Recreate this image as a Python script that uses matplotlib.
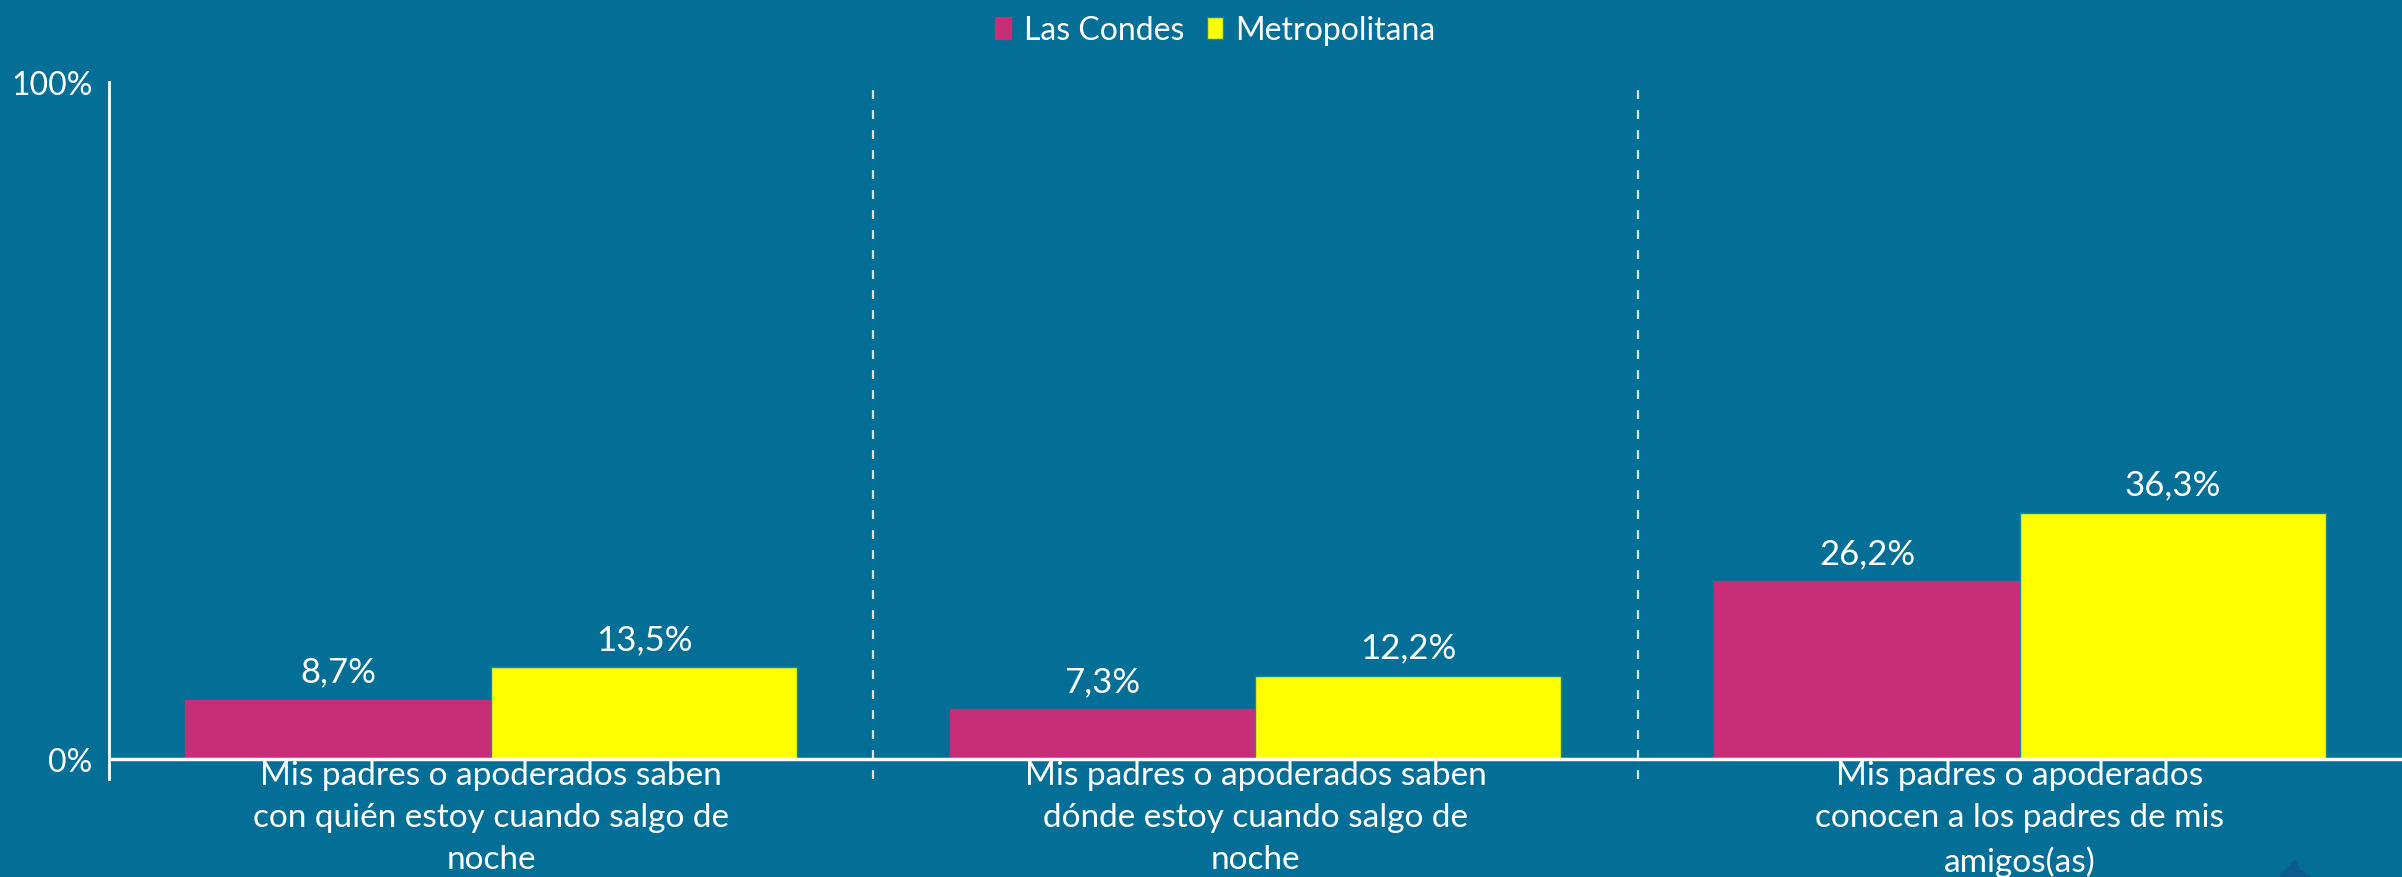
import matplotlib.pyplot as plt
from matplotlib.patches import Polygon

BG = '#036e96'
PINK = '#c82d78'
YELLOW = '#ffff00'

categories = [
  'Mis padres o apoderados saben\ncon quién estoy cuando salgo de\nnoche',
  'Mis padres o apoderados saben\ndónde estoy cuando salgo de\nnoche',
  'Mis padres o apoderados\nconocen a los padres de mis\namigos(as)',
]
series_names = ['Las Condes', 'Metropolitana']
las_condes = [8.7, 7.3, 26.2]
metropolitana = [13.5, 12.2, 36.3]

plt.rcParams['font.family'] = ['Lato', 'DejaVu Sans']

fig = plt.figure(figsize=(24.02, 8.78), dpi=100, facecolor=BG)
ax = fig.add_axes([109 / 2402, 1 - 780 / 878, 1 - 109 / 2402, (780 - 83) / 878])
ax.set_facecolor(BG)

w = 0.4
x = list(range(len(categories)))
b1 = ax.bar([i - w / 2 for i in x], las_condes, width=w, color=PINK, edgecolor=PINK,
            linewidth=1, label=series_names[0], zorder=2)
b2 = ax.bar([i + w / 2 for i in x], metropolitana, width=w, color=YELLOW, edgecolor='#1a8a9a',
            linewidth=1, label=series_names[1], zorder=2)

for bars, vals in ((b1, las_condes), (b2, metropolitana)):
  for rect, v in zip(bars, vals):
    ax.annotate(f'{v:.1f}'.replace('.', ',') + '%',
                (rect.get_x() + rect.get_width() / 2, v),
                xytext=(0, 9), textcoords='offset points',
                ha='center', va='bottom', color='white', fontsize=25)

ax.set_xlim(-0.5, 2.5)
ax.set_ylim(-3, 100)

# baseline and group separators
ax.axhline(0, color='white', lw=2.5, zorder=3)
for sep in (0.5, 1.5):
  ax.axvline(sep, color='#d8e6ee', lw=1.6, ls=(0, (4, 5)), zorder=1)

for s in ('top', 'right', 'bottom'):
  ax.spines[s].set_visible(False)
ax.spines['left'].set_color('white')
ax.spines['left'].set_linewidth(2)

ax.set_yticks([0, 100])
ax.set_yticklabels(['0%', '100%'])
ax.tick_params(axis='y', length=0, pad=12, labelsize=23, labelcolor='white')
ax.set_xticks([])

for i, lab in enumerate(categories):
  ax.annotate(lab, (i, 0), xytext=(0, -1), textcoords='offset points',
              ha='center', va='top', color='white', fontsize=24,
              linespacing=1.5, annotation_clip=False)

fig.legend(handles=[b1, b2], loc='upper center', bbox_to_anchor=(0.506, 1.0),
           ncol=2, frameon=False, fontsize=23, labelcolor='white',
           handlelength=0.5, handleheight=0.7, handletextpad=0.4,
           columnspacing=0.7, borderaxespad=0.1)

# partial logo in the lower right corner
fig.patches.append(Polygon([(2278 / 2402, 0), (2295 / 2402, 18 / 878), (2300 / 2402, 8 / 878),
                            (2312 / 2402, 0)], closed=True, transform=fig.transFigure,
                           facecolor='#0d5a8e', edgecolor='none'))

fig.savefig('out.png', dpi=100, facecolor=BG)
